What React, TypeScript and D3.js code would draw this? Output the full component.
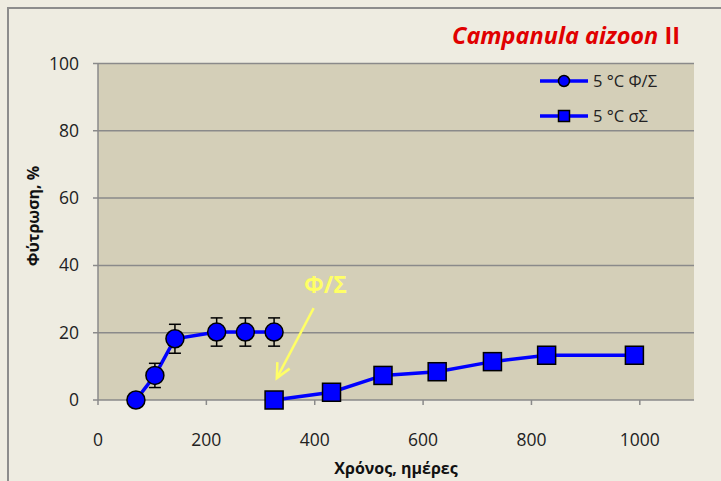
import * as d3 from 'd3';
import { useEffect, useRef } from 'react';

// Φ/Σ at 5 °C (circles, with error bars)
const days1 = [70, 105, 142, 219, 272, 325];
const germ1 = [0, 7.3, 18.2, 20.2, 20.2, 20.2];
const err1 = [0, 3.6, 4.3, 4.2, 4.2, 4.2];

// σΣ at 5 °C (squares)
const days2 = [325, 431, 526, 626, 728, 828, 990];
const germ2 = [0, 2.3, 7.3, 8.4, 11.4, 13.3, 13.3];

const xTicks = [0, 200, 400, 600, 800, 1000];
const yTicks = [0, 20, 40, 60, 80, 100];
const seriesNames = ['5 °C Φ/Σ', '5 °C σΣ'];

const W = 721;
const H = 481;
const plot = { left: 98, right: 694, top: 63.5, bottom: 400 };
const font = "'Open Sans', 'DejaVu Sans', sans-serif";
const blue = '#0000FF';
const grid = '#8A8A8A';

export default function App() {
  const svgRef = useRef(null);

  useEffect(() => {
    const svg = d3.select(svgRef.current);
    svg.selectAll('*').remove();

    const x = d3.scaleLinear().domain([0, 1100]).range([plot.left, plot.right]);
    const y = d3.scaleLinear().domain([0, 100]).range([plot.bottom, plot.top]);

    // background + frame
    svg.append('rect').attr('width', W).attr('height', H).attr('fill', '#EEECE1');
    svg
      .append('rect')
      .attr('x', 8)
      .attr('y', 8)
      .attr('width', 900)
      .attr('height', 700)
      .attr('fill', 'none')
      .attr('stroke', '#8C8C8C')
      .attr('stroke-width', 2);

    svg
      .append('rect')
      .attr('x', plot.left)
      .attr('y', plot.top)
      .attr('width', plot.right - plot.left)
      .attr('height', plot.bottom - plot.top)
      .attr('fill', '#D4CFB8');

    // gridlines
    svg
      .append('g')
      .selectAll('line')
      .data(yTicks)
      .enter()
      .append('line')
      .attr('x1', plot.left - 5)
      .attr('x2', plot.right)
      .attr('y1', (d) => y(d))
      .attr('y2', (d) => y(d))
      .attr('stroke', grid)
      .attr('stroke-width', 1.5);

    // y axis line
    svg
      .append('line')
      .attr('x1', plot.left)
      .attr('x2', plot.left)
      .attr('y1', plot.top)
      .attr('y2', plot.bottom)
      .attr('stroke', grid)
      .attr('stroke-width', 1.5);

    // x ticks
    svg
      .append('g')
      .selectAll('line')
      .data(xTicks)
      .enter()
      .append('line')
      .attr('x1', (d) => x(d))
      .attr('x2', (d) => x(d))
      .attr('y1', plot.bottom)
      .attr('y2', plot.bottom + 5)
      .attr('stroke', grid)
      .attr('stroke-width', 1.5);

    // tick labels
    svg
      .append('g')
      .selectAll('text')
      .data(yTicks)
      .enter()
      .append('text')
      .attr('x', plot.left - 19)
      .attr('y', (d) => y(d) + 6)
      .attr('text-anchor', 'end')
      .style('font-family', font)
      .style('font-size', '17.5px')
      .attr('fill', '#222')
      .text((d) => d);

    svg
      .append('g')
      .selectAll('text')
      .data(xTicks)
      .enter()
      .append('text')
      .attr('x', (d) => x(d))
      .attr('y', plot.bottom + 46)
      .attr('text-anchor', 'middle')
      .style('font-family', font)
      .style('font-size', '17.5px')
      .attr('fill', '#222')
      .text((d) => d);

    // axis titles
    svg
      .append('text')
      .attr('x', (plot.left + plot.right) / 2)
      .attr('y', 474)
      .attr('text-anchor', 'middle')
      .style('font-family', font)
      .style('font-size', '16px')
      .style('font-weight', 'bold')
      .attr('fill', '#111')
      .text('Χρόνος, ημέρες');

    svg
      .append('text')
      .attr('transform', 'translate(39,216)rotate(-90)')
      .attr('text-anchor', 'middle')
      .style('font-family', font)
      .style('font-size', '16px')
      .style('font-weight', 'bold')
      .attr('fill', '#111')
      .text('Φύτρωση, %');

    // chart title
    const title = svg
      .append('text')
      .attr('x', 680)
      .attr('y', 44)
      .attr('text-anchor', 'end')
      .style('font-family', font)
      .style('font-size', '23.5px')
      .style('font-weight', 'bold')
      .attr('fill', '#E00000');
    title.append('tspan').style('font-style', 'italic').text('Campanula aizoon');
    title.append('tspan').text(' II');

    // lines
    const line = d3
      .line<number>()
      .x((d) => x(d[0]))
      .y((d) => y(d[1]));
    const pts1 = days1.map((d, i) => [d, germ1[i]]);
    const pts2 = days2.map((d, i) => [d, germ2[i]]);

    [pts1, pts2].forEach((pts) => {
      svg
        .append('path')
        .datum(pts)
        .attr('d', line as any)
        .attr('fill', 'none')
        .attr('stroke', blue)
        .attr('stroke-width', 3.5);
    });

    // error bars
    const eb = svg.append('g').attr('stroke', '#000').attr('stroke-width', 1.5);
    pts1.forEach((p, i) => {
      if (!err1[i]) return;
      const cx = x(p[0]);
      const top = y(p[1] + err1[i]);
      const bot = y(p[1] - err1[i]);
      eb.append('line').attr('x1', cx).attr('x2', cx).attr('y1', top).attr('y2', bot);
      eb.append('line').attr('x1', cx - 6).attr('x2', cx + 6).attr('y1', top).attr('y2', top);
      eb.append('line').attr('x1', cx - 6).attr('x2', cx + 6).attr('y1', bot).attr('y2', bot);
    });

    // markers
    svg
      .append('g')
      .selectAll('circle')
      .data(pts1)
      .enter()
      .append('circle')
      .attr('cx', (d) => x(d[0]))
      .attr('cy', (d) => y(d[1]))
      .attr('r', 9)
      .attr('fill', blue)
      .attr('stroke', '#000')
      .attr('stroke-width', 1.5);

    svg
      .append('g')
      .selectAll('rect')
      .data(pts2)
      .enter()
      .append('rect')
      .attr('x', (d) => x(d[0]) - 9)
      .attr('y', (d) => y(d[1]) - 9)
      .attr('width', 18)
      .attr('height', 18)
      .attr('fill', blue)
      .attr('stroke', '#000')
      .attr('stroke-width', 1.5);

    // legend
    const leg = svg.append('g');
    seriesNames.forEach((name, i) => {
      const ly = 81 + i * 35;
      leg
        .append('line')
        .attr('x1', 540)
        .attr('x2', 588)
        .attr('y1', ly)
        .attr('y2', ly)
        .attr('stroke', blue)
        .attr('stroke-width', 3.5);
      if (i === 0) {
        leg
          .append('circle')
          .attr('cx', 564)
          .attr('cy', ly)
          .attr('r', 5.5)
          .attr('fill', blue)
          .attr('stroke', '#000')
          .attr('stroke-width', 1.5);
      } else {
        leg
          .append('rect')
          .attr('x', 558.5)
          .attr('y', ly - 5.5)
          .attr('width', 11)
          .attr('height', 11)
          .attr('fill', blue)
          .attr('stroke', '#000')
          .attr('stroke-width', 1.5);
      }
      leg
        .append('text')
        .attr('x', 593)
        .attr('y', ly + 6)
        .style('font-family', font)
        .style('font-size', '16.5px')
        .attr('fill', '#222')
        .text(name);
    });

    // annotation arrow
    const ann = svg.append('g');
    const tail: [number, number] = [x(398), y(27.3)];
    const tip: [number, number] = [x(330), y(6.5)];
    const ang = Math.atan2(tip[1] - tail[1], tip[0] - tail[0]);
    const headLen = 16;
    const spread = 0.45;
    ann
      .append('line')
      .attr('x1', tail[0])
      .attr('y1', tail[1])
      .attr('x2', tip[0])
      .attr('y2', tip[1])
      .attr('stroke', '#FFFF66')
      .attr('stroke-width', 2.5);
    ann
      .append('path')
      .attr(
        'd',
        `M${tip[0] - headLen * Math.cos(ang - spread)},${tip[1] - headLen * Math.sin(ang - spread)}` +
          `L${tip[0]},${tip[1]}` +
          `L${tip[0] - headLen * Math.cos(ang + spread)},${tip[1] - headLen * Math.sin(ang + spread)}`
      )
      .attr('fill', 'none')
      .attr('stroke', '#FFFF66')
      .attr('stroke-width', 2.5);
    ann
      .append('text')
      .attr('x', x(380))
      .attr('y', y(31.8))
      .style('font-family', font)
      .style('font-size', '23px')
      .style('font-weight', 'bold')
      .attr('fill', '#FFFF66')
      .text('Φ/Σ');
  }, []);

  return (
    <svg
      ref={svgRef}
      width={W}
      height={H}
      style={{ position: 'absolute', left: 0, top: 0 }}
    ></svg>
  );
}
